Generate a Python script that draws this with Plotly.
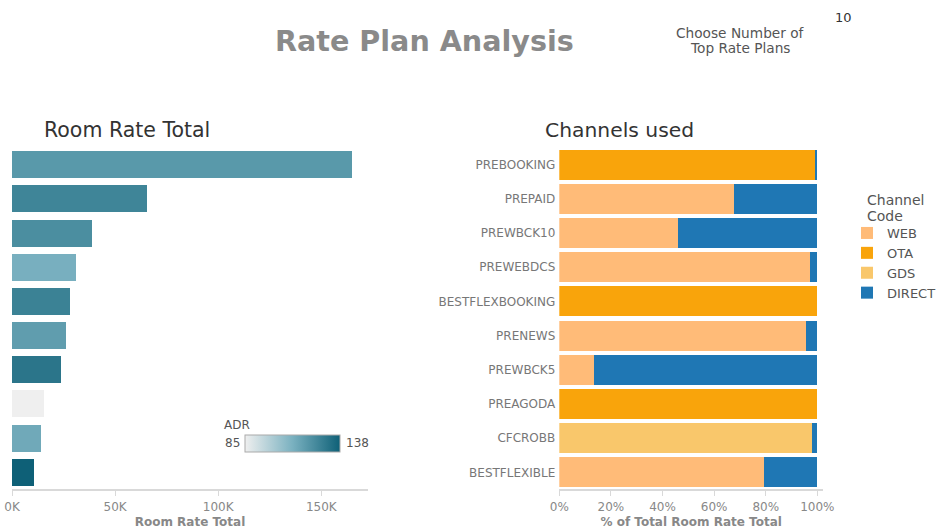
import plotly.graph_objects as go

# ---------------- data ----------------
rate_plans = ["PREBOOKING", "PREPAID", "PREWBCK10", "PREWEBDCS", "BESTFLEXBOOKING",
              "PRENEWS", "PREWBCK5", "PREAGODA", "CFCROBB", "BESTFLEXIBLE"]
room_rate_total = [164700, 65300, 38900, 31200, 28300, 26300, 23900, 15500, 14100, 10700]
adr = [119.5, 126, 123, 112, 127, 118, 131, 85, 114, 138]

channels = ["WEB", "OTA", "GDS", "DIRECT"]
share_web = [0.0, 0.677, 0.459, 0.970, 0.0, 0.955, 0.136, 0.0, 0.0, 0.795]
share_ota = [0.994, 0.0, 0.0, 0.0, 1.0, 0.0, 0.0, 1.0, 0.0, 0.0]
share_gds = [0.0, 0.0, 0.0, 0.0, 0.0, 0.0, 0.0, 0.0, 0.978, 0.0]
share_direct = [0.006, 0.323, 0.541, 0.030, 0.0, 0.045, 0.864, 0.0, 0.022, 0.205]

channel_colors = {"WEB": "#ffbb78", "OTA": "#f9a40b", "GDS": "#f9c76b", "DIRECT": "#1f77b4"}
adr_scale = [[0.0, "#efefef"], [0.5, "#7ab1c0"], [1.0, "#0e6077"]]

x_ticks_left = [0, 50000, 100000, 150000]
x_ticktext_left = ["0K", "50K", "100K", "150K"]
x_ticks_right = [0, 0.2, 0.4, 0.6, 0.8, 1.0]

# ---------------- layout helpers ----------------
W, H = 937, 529
def px_x(p):
    return p / W
def px_y(p):
    return 1 - p / H

FONT = "DejaVu Sans"
fig = go.Figure()

fig.add_trace(go.Bar(
    x=room_rate_total, y=rate_plans, orientation="h", width=0.79,
    xaxis="x", yaxis="y", showlegend=False,
    marker=dict(
        color=adr, colorscale=adr_scale, cmin=85, cmax=138,
        line=dict(width=0),
        showscale=True,
        colorbar=dict(
            orientation="h", x=px_x(245), xanchor="left",
            y=px_y(435), yanchor="top",
            lenmode="pixels", len=95, thickness=17,
            outlinecolor="#aaaaaa", outlinewidth=1,
            showticklabels=False, ticks="", xpad=0, ypad=0,
        ),
    ),
))

series = {"WEB": share_web, "OTA": share_ota, "GDS": share_gds, "DIRECT": share_direct}
for ch in channels:
    fig.add_trace(go.Bar(
        x=series[ch], y=rate_plans, orientation="h", name=ch, width=0.88,
        xaxis="x2", yaxis="y2",
        marker=dict(color=channel_colors[ch], line=dict(width=0)),
    ))

ydom = [px_y(489.4), px_y(147.6)]
axis_font = dict(family=FONT, size=12, color="#888888")
title_font = dict(family=FONT, size=12, color="#888888")

fig.update_layout(
    width=W, height=H, autosize=False,
    margin=dict(l=0, r=0, t=0, b=0, autoexpand=False),
    paper_bgcolor="white", plot_bgcolor="white",
    barmode="stack",
    font=dict(family=FONT, color="#555555"),
    xaxis=dict(
        domain=[px_x(12), px_x(368)], range=[0, 172650],
        tickvals=x_ticks_left, ticktext=x_ticktext_left,
        showgrid=False, zeroline=False,
        showline=True, linecolor="#d9d9d9", linewidth=2,
        ticks="outside", ticklen=5, tickcolor="#d9d9d9",
        tickfont=axis_font,
        title=dict(text="<b>Room Rate Total</b>", font=title_font, standoff=7),
        anchor="y", automargin=False,
    ),
    yaxis=dict(
        domain=ydom, categoryorder="array", categoryarray=rate_plans,
        autorange="reversed", showticklabels=False, showgrid=False,
        zeroline=False, showline=False, ticks="", anchor="x", automargin=False,
    ),
    xaxis2=dict(
        domain=[px_x(559.3), px_x(823)], range=[0, 1.022],
        tickvals=x_ticks_right, tickformat=".0%",
        showgrid=False, zeroline=False,
        showline=True, linecolor="#d9d9d9", linewidth=2,
        ticks="outside", ticklen=5, tickcolor="#d9d9d9",
        tickfont=axis_font,
        title=dict(text="<b>% of Total Room Rate Total</b>", font=title_font, standoff=7),
        anchor="y2", automargin=False,
    ),
    yaxis2=dict(
        domain=ydom, categoryorder="array", categoryarray=rate_plans,
        autorange="reversed", showgrid=False, zeroline=False, showline=False,
        ticks="", tickfont=dict(family=FONT, size=12, color="#777777"),
        anchor="x2", automargin=False, ticklabelstandoff=3,
    ),
    legend=dict(
        x=px_x(847), y=px_y(218), xanchor="left", yanchor="top",
        font=dict(family=FONT, size=13, color="#555555"),
        traceorder="normal", bgcolor="rgba(0,0,0,0)", tracegroupgap=0,
    ),
)

annotations = [
    dict(text="<b>Rate Plan Analysis</b>", x=px_x(424), y=px_y(41), xanchor="center", yanchor="middle",
         font=dict(family=FONT, size=28.6, color="#8a8a8a")),
    dict(text="Choose Number of", x=px_x(740), y=px_y(33), xanchor="center", yanchor="middle",
         font=dict(family=FONT, size=13.7, color="#555555")),
    dict(text="Top Rate Plans", x=px_x(740), y=px_y(48), xanchor="center", yanchor="middle",
         font=dict(family=FONT, size=13.7, color="#555555")),
    dict(text="10", x=px_x(843), y=px_y(18), xanchor="center", yanchor="middle",
         font=dict(family=FONT, size=13, color="#333333")),
    dict(text="Room Rate Total", x=px_x(42), y=px_y(130), xanchor="left", yanchor="middle",
         font=dict(family=FONT, size=20.5, color="#333333")),
    dict(text="Channels used", x=px_x(543), y=px_y(130), xanchor="left", yanchor="middle",
         font=dict(family=FONT, size=20.3, color="#333333")),
    dict(text="Channel", x=px_x(865), y=px_y(200), xanchor="left", yanchor="middle",
         font=dict(family=FONT, size=14, color="#555555")),
    dict(text="Code", x=px_x(865), y=px_y(216), xanchor="left", yanchor="middle",
         font=dict(family=FONT, size=14, color="#555555")),
    dict(text="ADR", x=px_x(222), y=px_y(425), xanchor="left", yanchor="middle",
         font=dict(family=FONT, size=12, color="#555555")),
    dict(text="85", x=px_x(242), y=px_y(443), xanchor="right", yanchor="middle",
         font=dict(family=FONT, size=12, color="#555555")),
    dict(text="138", x=px_x(344), y=px_y(443), xanchor="left", yanchor="middle",
         font=dict(family=FONT, size=12, color="#555555")),
]
for a in annotations:
    a.update(xref="paper", yref="paper", showarrow=False)
fig.update_layout(annotations=annotations)

fig.write_html("out.html")
